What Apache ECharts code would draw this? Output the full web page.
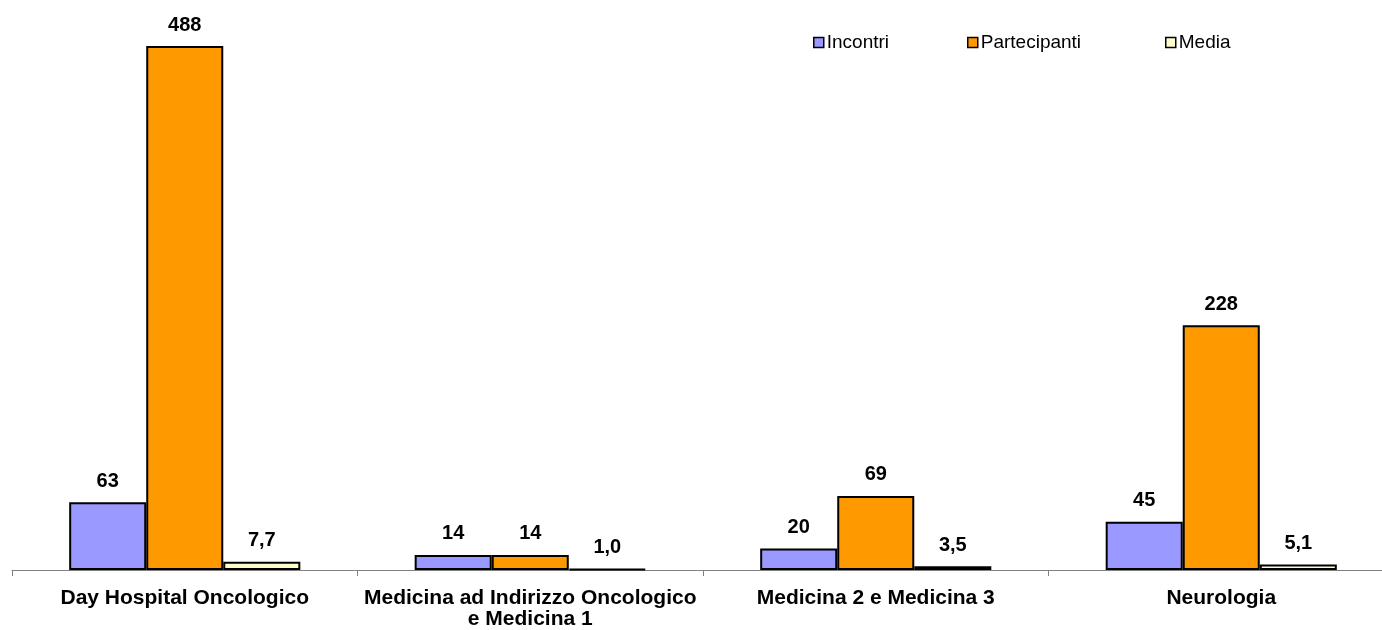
<!DOCTYPE html>
<html>
<head>
<meta charset="utf-8">
<script src="https://cdn.jsdelivr.net/npm/echarts@6/dist/echarts.min.js"></script>
<style>html,body{margin:0;padding:0;background:#fff;}#c{width:1382px;height:630px;}</style>
</head>
<body>
<div id="c"></div>
<script>
var categories = ["Day Hospital Oncologico", "Medicina ad Indirizzo Oncologico\ne Medicina 1", "Medicina 2 e Medicina 3", "Neurologia"];
var seriesNames = ['Incontri', 'Partecipanti', 'Media'];
var incontri = [63, 14, 20, 45];
var partecipanti = [488, 14, 69, 228];
var media = [7.7, 1.0, 3.5, 5.1];

var chart = echarts.init(document.getElementById('c'));
var labelStyle = {show: true, position: 'top', distance: 11, color: '#000', fontFamily: 'Liberation Sans, Arial', fontWeight: 'bold', fontSize: 20};
var legendLefts = [808, 962, 1160];
var legends = seriesNames.map(function(n, i){
  return {
    left: legendLefts[i], top: 28,
    icon: 'rect', itemWidth: 10, itemHeight: 10,
    itemStyle: {borderColor: '#000', borderWidth: 1.5},
    textStyle: {fontFamily: 'Liberation Sans, Arial', fontSize: 19, color: '#000', padding: [0,0,0,-2]},
    data: [n]
  };
});
chart.setOption({
  animation: false,
  backgroundColor: '#fff',
  legend: legends,
  grid: {left: 12, top: 46, right: -12, bottom: 60, containLabel: false, outerBoundsMode: 'none'},
  xAxis: {
    type: 'category', data: categories,
    axisLine: {lineStyle: {color: '#808080', width: 1}},
    axisTick: {show: true, length: 6, lineStyle: {color: '#808080'}},
    axisLabel: {color: '#000', fontFamily: 'Liberation Sans, Arial', fontWeight: 'bold', fontSize: 21, lineHeight: 21, margin: 18, interval: 0}
  },
  yAxis: {type: 'value', min: 0, max: 488, show: false, splitLine: {show: false}},
  series: [
    {name: seriesNames[0], type: 'bar', data: incontri, barWidth: '22.3%', barGap: '0%',
     itemStyle: {color: '#9999FF', borderColor: '#000', borderWidth: 2}, label: labelStyle},
    {name: seriesNames[1], type: 'bar', data: partecipanti, barWidth: '22.3%', barGap: '0%',
     itemStyle: {color: '#FF9900', borderColor: '#000', borderWidth: 2}, label: labelStyle},
    {name: seriesNames[2], type: 'bar', data: media, barWidth: '22.3%', barGap: '0%',
     itemStyle: {color: '#FFFFCC', borderColor: '#000', borderWidth: 2},
     label: Object.assign({}, labelStyle, {formatter: function(p){return p.value.toFixed(1).replace('.', ',');}})}
  ]
});
</script>
</body>
</html>
